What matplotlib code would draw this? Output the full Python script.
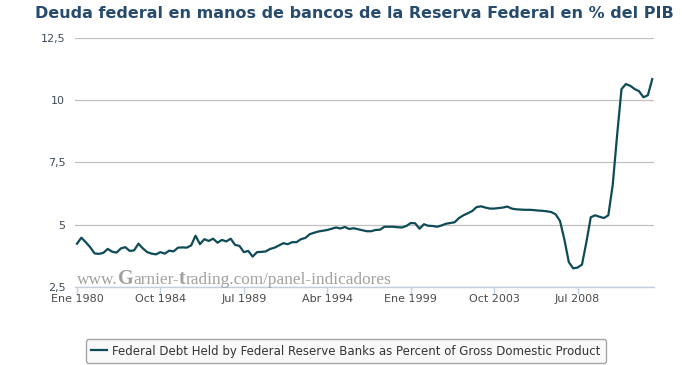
import numpy as np
import pandas as pd
import matplotlib
matplotlib.use("Agg")
import matplotlib.pyplot as plt

# quarterly data, 1980Q1 .. 2012Q4
quarters = pd.period_range("1980Q1", periods=132, freq="Q")
values = [
    4.24, 4.48, 4.30, 4.10, 3.85, 3.83, 3.87, 4.03, 3.92, 3.88,
    4.05, 4.10, 3.95, 3.97, 4.24, 4.05, 3.90, 3.84, 3.81, 3.90,
    3.84, 3.96, 3.93, 4.08, 4.09, 4.08, 4.17, 4.56, 4.22, 4.42,
    4.35, 4.44, 4.28, 4.39, 4.33, 4.44, 4.19, 4.15, 3.90, 3.95,
    3.72, 3.90, 3.91, 3.93, 4.03, 4.08, 4.17, 4.26, 4.22, 4.30,
    4.30, 4.42, 4.47, 4.62, 4.68, 4.73, 4.76, 4.79, 4.84, 4.89,
    4.85, 4.91, 4.83, 4.86, 4.82, 4.78, 4.74, 4.74, 4.79, 4.80,
    4.92, 4.92, 4.92, 4.90, 4.89, 4.95, 5.07, 5.06, 4.84, 5.02,
    4.96, 4.95, 4.92, 4.97, 5.04, 5.07, 5.10, 5.27, 5.38, 5.46,
    5.55, 5.71, 5.74, 5.69, 5.65, 5.65, 5.67, 5.69, 5.73, 5.65,
    5.62, 5.61, 5.60, 5.60, 5.59, 5.57, 5.56, 5.54, 5.51, 5.42,
    5.15, 4.40, 3.50, 3.25, 3.28, 3.40, 4.30, 5.30, 5.38, 5.32,
    5.27, 5.38, 6.60, 8.60, 10.45, 10.65, 10.58, 10.45, 10.36, 10.12,
    10.20, 10.85,
]

month_es = {1: "Ene", 4: "Abr", 7: "Jul", 10: "Oct"}
tick_idx = list(range(0, 132, 19))
tick_labels = [f"{month_es[quarters[i].start_time.month]} {quarters[i].year}" for i in tick_idx]

y_ticks = [2.5, 5, 7.5, 10, 12.5]
y_labels = ["2,5", "5", "7,5", "10", "12,5"]

title = "Deuda federal en manos de bancos de la Reserva Federal en % del PIB"
series_name = "Federal Debt Held by Federal Reserve Banks as Percent of Gross Domestic Product"
# watermark pieces: (text, bold/big?)
watermark = [("www.", False), ("G", True), ("arnier-", False), ("t", True),
             ("rading.com/panel-indicadores", False)]

fig = plt.figure(figsize=(6.82, 3.65), dpi=100)
ax = fig.add_axes([75 / 682, 1 - 287 / 365, (654 - 75) / 682, (287 - 38) / 365])

x = np.arange(len(values))
line, = ax.plot(x, values, color="#0e4b58", linewidth=1.6, label=series_name)

ax.set_xlim(-0.45, 131.4)
ax.set_ylim(2.5, 12.5)
ax.set_yticks(y_ticks)
ax.set_yticklabels(y_labels)
ax.set_xticks(tick_idx)
ax.set_xticklabels(tick_labels)

ax.grid(axis="y", color="#c0c0c0", linewidth=0.9)
ax.set_axisbelow(True)
for s in ["top", "right", "left"]:
    ax.spines[s].set_visible(False)
ax.spines["bottom"].set_color("#c0d0e0")
ax.spines["bottom"].set_linewidth(1)

ax.tick_params(axis="y", length=0, pad=7, labelsize=8, labelcolor="#3e4a5a")
ax.tick_params(axis="x", length=5, width=1, color="#c0d0e0", pad=0,
               labelsize=8, labelcolor="#4a4a4a")

fig.text(354 / 682, 1 - 13 / 365, title, ha="center", va="center",
         fontsize=11.5, fontweight="bold", color="#274b6d")

# watermark, drawn piece by piece on one baseline
fig.canvas.draw()
renderer = fig.canvas.get_renderer()
xpos = 77
for txt, big in watermark:
    t = fig.text(xpos / 682, 1 - 284.5 / 365, txt, ha="left", va="baseline",
                 family="Liberation Serif", fontsize=14.5 if big else 12.4,
                 fontweight="bold" if big else "normal", color="#a0a0a0")
    xpos += t.get_window_extent(renderer).width

leg = fig.legend(handles=[line], loc="center", bbox_to_anchor=(346 / 682, 1 - 351 / 365),
                 frameon=True, fancybox=True, edgecolor="#909090", facecolor="#f8f8f8",
                 fontsize=8.45, handlelength=1.3, handletextpad=0.5, borderpad=0.45)
for t in leg.get_texts():
    t.set_color("#333333")

plt.savefig("out.png", dpi=100)
